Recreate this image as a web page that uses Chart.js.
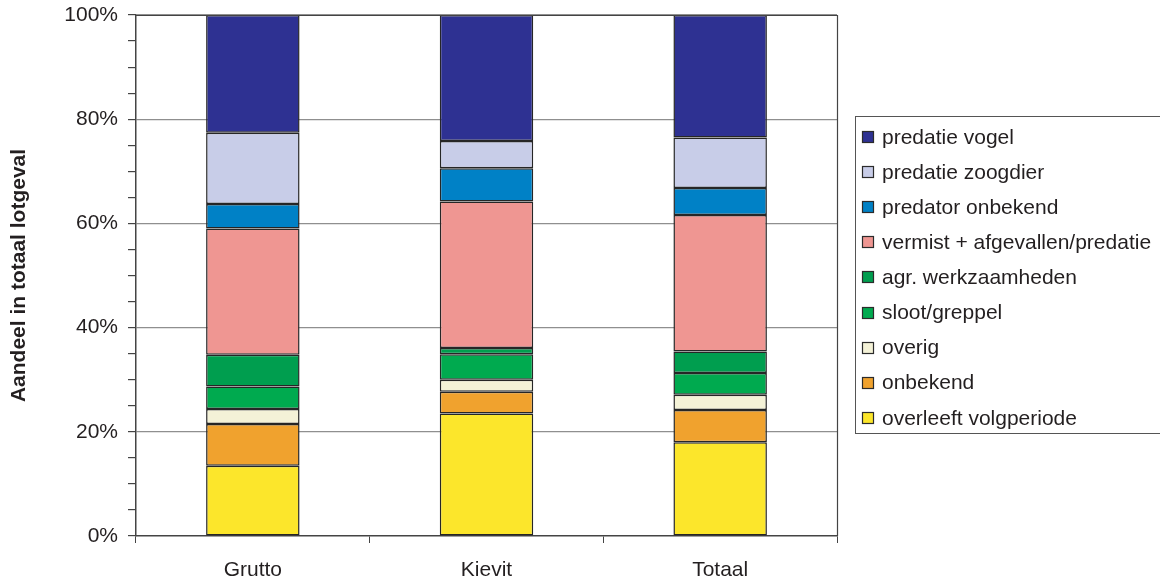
<!DOCTYPE html>
<html>
<head>
<meta charset="utf-8">
<script src="https://cdn.jsdelivr.net/npm/chart.js@4/dist/chart.umd.min.js"></script>
<style>
  html, body { margin: 0; padding: 0; background: #fff; }
  #wrap { width: 1160px; height: 581px; position: relative; }
</style>
</head>
<body>
<div id="wrap"><canvas id="c" width="1160" height="581"></canvas></div>
<script>
const categories = ['Grutto', 'Kievit', 'Totaal'];
const yTickLabels = ['0%', '20%', '40%', '60%', '80%', '100%'];

// series, bottom of stack first
const overleeftVolgperiode = [13.5, 23.5, 18.0];
const onbekend             = [8.0, 4.2, 6.2];
const overig               = [2.9, 2.3, 2.9];
const slootGreppel         = [4.3, 4.9, 4.2];
const agrWerkzaamheden     = [6.1, 1.2, 4.1];
const vermistAfgevallen    = [24.2, 28.1, 26.2];
const predatorOnbekend     = [4.7, 6.4, 5.2];
const predatieZoogdier     = [13.7, 5.2, 9.7];
const predatieVogel        = [22.6, 24.2, 23.5];

const seriesNames = ['overleeft volgperiode', 'onbekend', 'overig', 'sloot/greppel',
  'agr. werkzaamheden', 'vermist + afgevallen/predatie', 'predator onbekend',
  'predatie zoogdier', 'predatie vogel'];
const seriesValues = [overleeftVolgperiode, onbekend, overig, slootGreppel,
  agrWerkzaamheden, vermistAfgevallen, predatorOnbekend, predatieZoogdier, predatieVogel];
const seriesColors = ['#FCE62B', '#F0A22E', '#F4F2D7', '#00AA4F', '#009E4F',
  '#EF9692', '#0081C6', '#C8CDE8', '#2E3192'];

const FONT = '"Liberation Sans", Arial, sans-serif';
const TXT = '#231F20';

const datasets = seriesNames.map((n, i) => ({
  label: n,
  data: seriesValues[i],
  backgroundColor: seriesColors[i],
  borderColor: '#262626',
  borderWidth: 1.5,
  borderSkipped: false,
  barPercentage: 0.4,
  categoryPercentage: 1.0
}));

const framePlugin = {
  id: 'frameLegend',
  afterDraw(chart) {
    const ctx = chart.ctx;
    const a = chart.chartArea;
    ctx.save();
    ctx.strokeStyle = '#444';
    ctx.lineWidth = 1.2;
    ctx.beginPath();
    ctx.moveTo(a.left, a.top + 0.5);
    ctx.lineTo(a.right + 0.5, a.top + 0.5);
    ctx.lineTo(a.right + 0.5, a.bottom);
    ctx.stroke();

    const lx = 855, ly = 116, lb = 433;
    ctx.strokeStyle = '#555';
    ctx.lineWidth = 1;
    ctx.strokeRect(lx + 0.5, ly + 0.5, 1170 - lx, lb - ly);

    const ds = chart.data.datasets.slice().reverse();
    const firstY = 137, step = 35.1;
    ctx.font = '21px ' + FONT;
    ctx.textBaseline = 'middle';
    ctx.textAlign = 'left';
    ds.forEach((d, i) => {
      const y = firstY + i * step;
      ctx.fillStyle = d.backgroundColor;
      ctx.fillRect(862, Math.round(y - 6), 12, 12);
      ctx.strokeStyle = '#2b2b2b';
      ctx.lineWidth = 1.2;
      ctx.strokeRect(862.5, Math.round(y - 6) + 0.5, 11, 11);
      ctx.fillStyle = TXT;
      ctx.fillText(d.label, 882, y + 1);
    });
    ctx.restore();
  }
};

new Chart(document.getElementById('c'), {
  type: 'bar',
  data: { labels: categories, datasets },
  options: {
    responsive: false,
    animation: false,
    devicePixelRatio: 1,
    layout: { padding: { left: 0, top: 15, right: 323, bottom: 0 } },
    plugins: { legend: { display: false }, tooltip: { enabled: false } },
    scales: {
      x: {
        stacked: true,
        grid: {
          offset: true,
          drawOnChartArea: false,
          tickLength: 7,
          tickColor: '#444',
          lineWidth: 1
        },
        border: { color: '#444', width: 1.5 },
        ticks: { color: TXT, font: { family: FONT, size: 21 }, padding: 15 },
        afterFit(s) { s.height = 45; s.paddingLeft = 0; s.paddingRight = 0; }
      },
      y: {
        stacked: true,
        min: 0, max: 100,
        grid: {
          color: (c) => (c.tick && c.tick.value % 20 === 0 && c.tick.value !== 0) ? '#8f8f8f' : 'rgba(0,0,0,0)',
          tickColor: '#444',
          tickLength: 8,
          lineWidth: 1.2
        },
        border: { color: '#444', width: 1.5 },
        ticks: {
          stepSize: 5,
          autoSkip: false,
          color: TXT,
          font: { family: FONT, size: 21 },
          padding: 10,
          callback: (v) => (v % 20 === 0 ? yTickLabels[v / 20] : '')
        },
        title: {
          display: true,
          text: 'Aandeel in totaal lotgeval',
          color: TXT,
          font: { family: FONT, size: 21, weight: 'bold' },
          padding: { top: 7, bottom: 10 }
        },
        afterFit(s) { s.width = 136; s.paddingTop = 0; s.paddingBottom = 0; }
      }
    }
  },
  plugins: [framePlugin]
});
</script>
</body>
</html>
